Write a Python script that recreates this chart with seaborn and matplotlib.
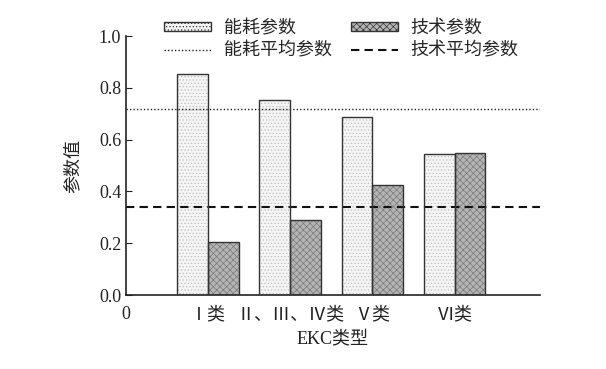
import pandas as pd
import matplotlib
matplotlib.use("Agg")
import matplotlib.pyplot as plt
import seaborn as sns
from matplotlib.patches import Patch, Rectangle
from matplotlib.lines import Line2D

sns.set_style("ticks")
plt.rcParams['font.family'] = ['Liberation Serif', 'Noto Sans CJK SC']
plt.rcParams['hatch.linewidth'] = 0.5

# data
groups = [1, 2, 3, 4]
group_labels = ["Ⅰ类", "Ⅱ、Ⅲ、Ⅳ类", "Ⅴ类", "Ⅵ类"]
energy = [0.855, 0.752, 0.688, 0.544]
tech = [0.203, 0.290, 0.425, 0.549]
energy_mean = 0.718
tech_mean = 0.341

df = pd.DataFrame({
    "group": groups * 2,
    "value": energy + tech,
    "series": ["能耗参数"] * 4 + ["技术参数"] * 4,
})

fig = plt.figure(figsize=(6.06, 3.69), dpi=100)
ax = fig.add_axes([0.208, 0.2005, 0.683, 0.7019])

sns.barplot(data=df, x="group", y="value", hue="series", native_scale=True,
            palette=["#f5f5f5", "#b4b4b4"], linewidth=0,
            width=0.75, legend=False, ax=ax)

# hatch in a soft gray, then a dark outline over each bar
styles = [("#bdbdbd", "....."), ("#7a7a7a", "xxxxx")]
bars = list(ax.patches)
for i, bar in enumerate(bars):
    hcol, hpat = styles[0] if i < 4 else styles[1]
    bar.set_edgecolor(hcol)
    bar.set_hatch(hpat)
    ax.add_patch(Rectangle(bar.get_xy(), bar.get_width(), bar.get_height(),
                           fill=False, edgecolor="#333333", linewidth=1.0, zorder=3))

ax.axhline(energy_mean, color="#222222", linestyle=(0, (1, 1.5)), linewidth=1.0)
ax.axhline(tech_mean, color="#111111", linestyle=(0, (4, 2.5)), linewidth=1.5)

ax.set_xlim(0, 5.04)
ax.set_ylim(0, 1.0)
ax.set_xticks([0] + groups)
ax.set_xticklabels(["0"] + group_labels, fontsize=13)
ax.set_yticks([0, 0.2, 0.4, 0.6, 0.8, 1.0])
ax.set_yticklabels(["0.0", "0.2", "0.4", "0.6", "0.8", "1.0"], fontsize=13)
ax.tick_params(axis="x", length=0, pad=8, colors="#222222")
ax.tick_params(axis="y", direction="in", length=4, colors="#222222")
ax.set_xlabel("EKC类型", fontsize=13, labelpad=6, color="#222222")
ax.set_ylabel("参数值", fontsize=13, labelpad=12, color="#222222")
sns.despine(ax=ax)
for s in ["left", "bottom"]:
    ax.spines[s].set_linewidth(1.2)
    ax.spines[s].set_color("#222222")

handles = [
    Patch(facecolor="#f5f5f5", edgecolor="#333333", hatch=".....", label="能耗参数"),
    Line2D([], [], color="#222222", linestyle=(0, (1, 1.5)), linewidth=1.0, label="能耗平均参数"),
    Patch(facecolor="#b4b4b4", edgecolor="#333333", hatch="xxxxx", label="技术参数"),
    Line2D([], [], color="#111111", linestyle=(0, (4, 2.5)), linewidth=1.5, label="技术平均参数"),
]
fig.legend(handles=handles, ncol=2, frameon=False, fontsize=13,
           loc="upper left", bbox_to_anchor=(0.244, 0.99),
           handlelength=2.6, handleheight=0.35, handletextpad=0.7,
           columnspacing=1.05, labelspacing=0.3)

fig.savefig("out.png", dpi=100)
